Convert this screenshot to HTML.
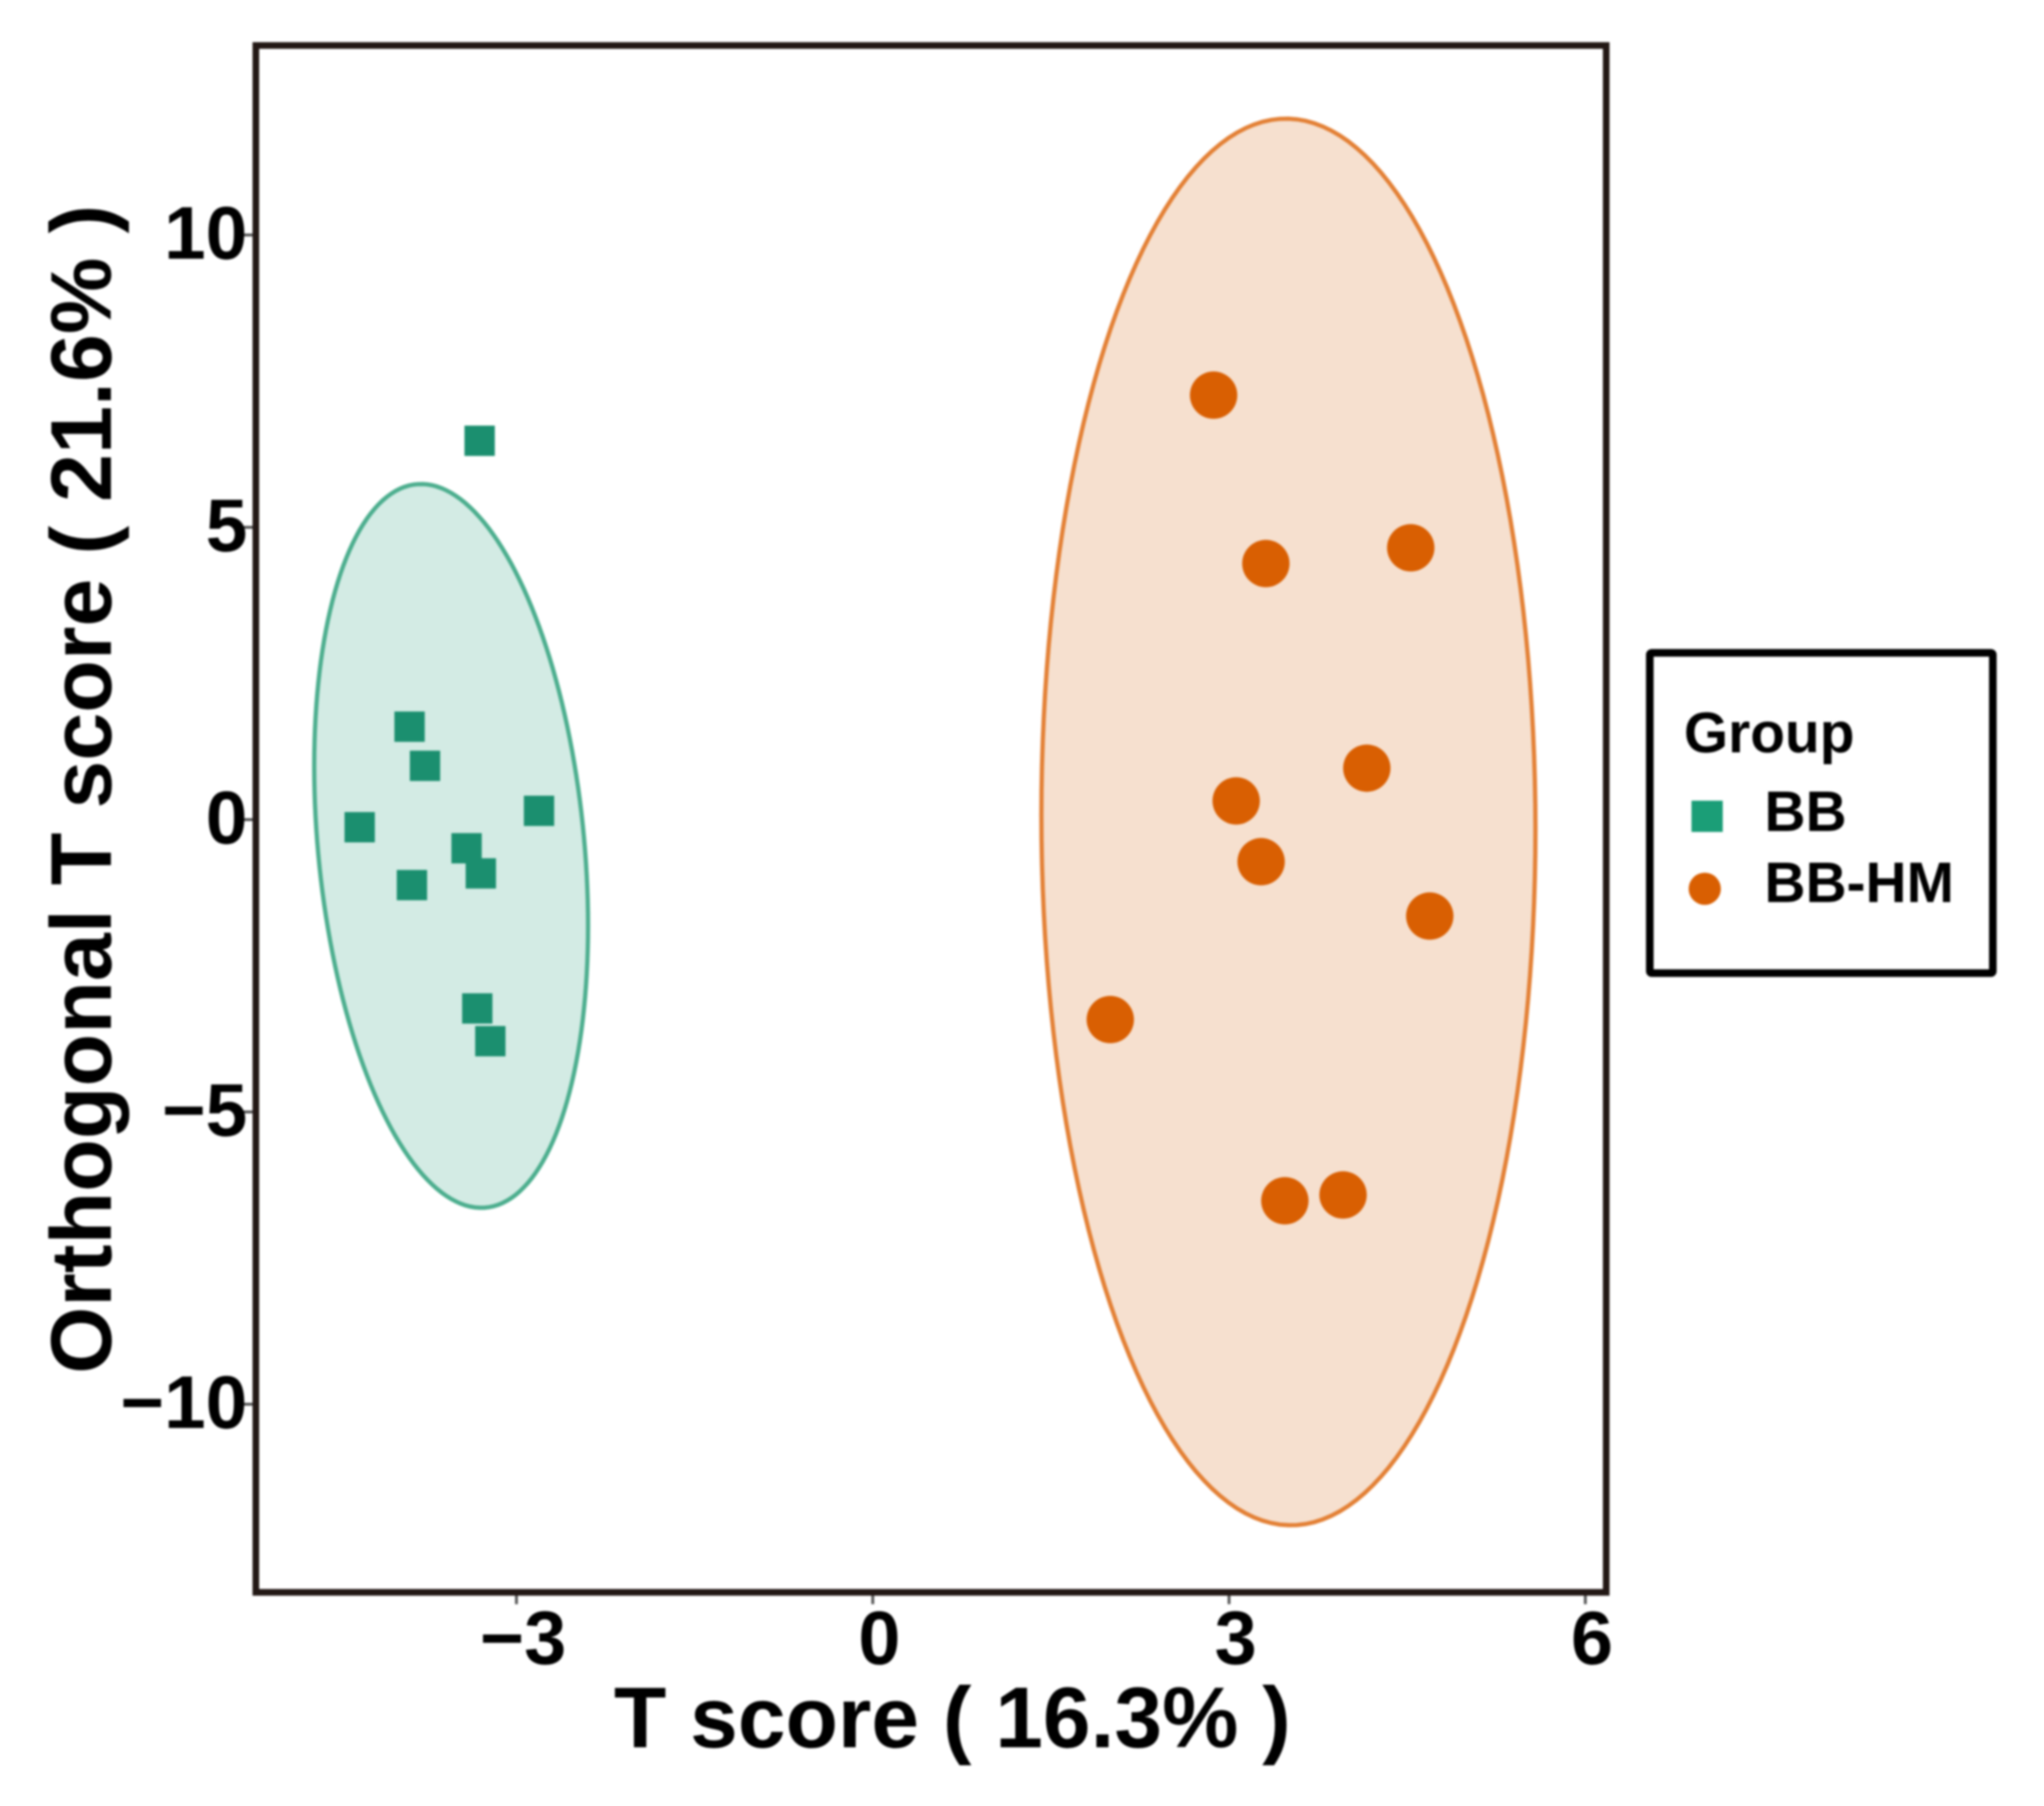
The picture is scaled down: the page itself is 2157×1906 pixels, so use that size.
<!DOCTYPE html>
<html lang="en">
<head>
<meta charset="utf-8">
<title>OPLS-DA score plot</title>
<style>
  html, body { margin: 0; padding: 0; background: #fff; }
  body { width: 2157px; height: 1906px; overflow: hidden; }
  svg { display: block; filter: blur(1px); }
  text { font-family: "Liberation Sans", sans-serif; font-weight: 700; fill: #000; }
</style>
</head>
<body>
<svg id="chart" xmlns="http://www.w3.org/2000/svg" width="2157" height="1906" viewBox="0 0 2157 1906">
  <rect x="0" y="0" width="2157" height="1906" fill="#fff"/>
  <g id="ellipses"></g>
  <g id="points"></g>
  <g id="ticks"></g>
  <rect x="270" y="48" width="1425" height="1632.5" fill="none" stroke="#231815" stroke-width="7"/>
  <text x="1005" y="1844" font-size="90.5" text-anchor="middle">T score ( 16.3% )</text>
  <text transform="translate(117,833) rotate(-90)" font-size="91" text-anchor="middle">Orthogonal T score ( 21.6% )</text>
  <g>
    <rect x="1741" y="689" width="362" height="338" rx="2" fill="#fff" stroke="#000" stroke-width="8"/>
    <text x="1777" y="794" font-size="60">Group</text>
    <rect x="1785" y="845" width="33" height="33" fill="#1b9e77"/>
    <text x="1862" y="877" font-size="60">BB</text>
    <circle cx="1799" cy="938" r="17" fill="#d95f02"/>
    <text x="1862" y="952" font-size="60">BB-HM</text>
  </g>
</svg>
<script>
const xTicks = [-3, 0, 3, 6];
const xTickLabels = ["\u22123", "0", "3", "6"];
const yTicks = [10, 5, 0, -5, -10];
const yTickLabels = ["10", "5", "0", "\u22125", "\u221210"];

const bbX = [-3.31, -3.90, -3.77, -4.32, -2.81, -3.42, -3.30, -3.88, -3.33, -3.22];
const bbY = [6.48, 1.59, 0.92, -0.13, 0.15, -0.49, -0.92, -1.12, -3.23, -3.79];
const hmX = [2.87, 3.31, 4.53, 4.16, 3.06, 3.27, 4.69, 2.00, 3.47, 3.96];
const hmY = [7.26, 4.38, 4.65, 0.88, 0.32, -0.72, -1.65, -3.42, -6.52, -6.42];

const bbEllipseCenter = [-3.55, -0.45];
const bbEllipseRadii = [1.153, 6.19];
const bbEllipseCorr = -0.22;
const hmEllipseCenter = [3.50, -0.04];
const hmEllipseRadii = [2.08, 12.03];
const hmEllipseCorr = -0.01;

const NS = "http://www.w3.org/2000/svg";
function xScale(v) { return 921 + 125.33 * v; }
function yScale(v) { return 865 - 61.7 * v; }

function make(tag, attrs, parent) {
  const el = document.createElementNS(NS, tag);
  for (const k in attrs) el.setAttribute(k, attrs[k]);
  parent.appendChild(el);
  return el;
}

function ellipsePath(center, radii, corr) {
  const steps = 180;
  const s = Math.sqrt(1 - corr * corr);
  let d = "";
  for (let i = 0; i < steps; i++) {
    const t = 2 * Math.PI * i / steps;
    const vx = center[0] + radii[0] * Math.cos(t);
    const vy = center[1] + radii[1] * (corr * Math.cos(t) + s * Math.sin(t));
    d += (i ? "L" : "M") + xScale(vx).toFixed(2) + " " + yScale(vy).toFixed(2);
  }
  return d + "Z";
}

const ellipseLayer = document.getElementById("ellipses");
const pointLayer = document.getElementById("points");
const tickLayer = document.getElementById("ticks");

const bbEllipse = make("path", { d: ellipsePath(bbEllipseCenter, bbEllipseRadii, bbEllipseCorr), fill: "#d3ebe4", stroke: "#4cae8e", "stroke-width": 4.5 }, ellipseLayer);



const hmEllipse = make("path", { d: ellipsePath(hmEllipseCenter, hmEllipseRadii, hmEllipseCorr), fill: "#f6e0cf", stroke: "#e38035", "stroke-width": 4.5 }, ellipseLayer);



const bbSize = 32;
bbX.forEach(function (v, i) {
  const el = make("rect", { x: xScale(v) - bbSize / 2, y: yScale(bbY[i]) - bbSize / 2, width: bbSize, height: bbSize, fill: "#1b8f6f" }, pointLayer);
  
  
});

hmX.forEach(function (v, i) {
  const el = make("circle", { cx: xScale(v), cy: yScale(hmY[i]), r: 25, fill: "#d95f02" }, pointLayer);
  
  
});

xTicks.forEach(function (v, i) {
  const px = xScale(v);
  const tick = make("line", { x1: px, x2: px, y1: 1680, y2: 1693, stroke: "#555", "stroke-width": 3 }, tickLayer);
  
  
  const label = make("text", { x: px + 7, y: 1756, "font-size": 80, "text-anchor": "middle" }, tickLayer);
  label.textContent = xTickLabels[i];
  
  
});

yTicks.forEach(function (v, i) {
  const py = yScale(v);
  const tick = make("line", { x1: 257, x2: 270, y1: py, y2: py, stroke: "#555", "stroke-width": 3 }, tickLayer);
  
  
  const label = make("text", { x: 261, y: py + 25, "font-size": 79, "text-anchor": "end" }, tickLayer);
  label.textContent = yTickLabels[i];
  
  
});
</script>
</body>
</html>
